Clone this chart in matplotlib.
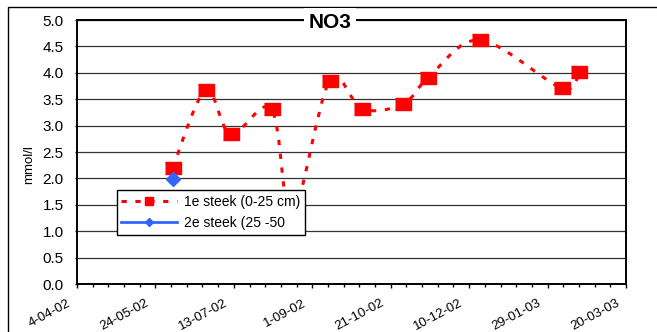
import numpy as np
import matplotlib
matplotlib.use("Agg")
from matplotlib import pyplot as plt
import matplotlib.dates as mdates
import matplotlib.ticker as ticker
import matplotlib.transforms as mtransforms
from matplotlib.path import Path
from matplotlib.patches import PathPatch, Rectangle
from matplotlib.lines import Line2D
from datetime import datetime

plt.rcParams['font.family'] = ['Liberation Sans', 'DejaVu Sans']
plt.rcParams['lines.scale_dashes'] = False

# sampling dates and NO3 values (mmol/l)
top_dates = ["2002-06-04", "2002-06-25", "2002-07-11", "2002-08-06", "2002-08-19",
             "2002-09-12", "2002-10-03", "2002-10-29", "2002-11-14", "2002-12-17",
             "2003-02-07", "2003-02-18"]
top_values = [2.2, 3.67, 2.84, 3.31, 1.3, 3.84, 3.31, 3.41, 3.91, 4.62, 3.71, 4.01]
deep_dates = ["2002-06-04"]
deep_values = [1.98]

tick_labels = ["4-04-02", "24-05-02", "13-07-02", "1-09-02",
               "21-10-02", "10-12-02", "29-01-03", "20-03-03"]
y_ticks = [0.0, 0.5, 1.0, 1.5, 2.0, 2.5, 3.0, 3.5, 4.0, 4.5, 5.0]

RED = "#ff0000"
BLUE = "#3366ff"


def smooth_path(x, y):
    # catmull-rom style bezier through the points (like a smoothed line)
    pts = np.column_stack([x, y])
    verts = [pts[0]]
    codes = [Path.MOVETO]
    n = len(pts)
    for i in range(n - 1):
        p0 = pts[i - 1] if i > 0 else pts[i]
        p1 = pts[i]
        p2 = pts[i + 1]
        p3 = pts[i + 2] if i + 2 < n else pts[i + 1]
        verts += [p1 + (p2 - p0) / 6, p2 - (p3 - p1) / 6, p2]
        codes += [Path.CURVE4] * 3
    return Path(verts, codes)


tick_pos = [mdates.date2num(datetime.strptime(t, "%d-%m-%y")) for t in tick_labels]
xt = mdates.datestr2num(top_dates)
xd = mdates.datestr2num(deep_dates)

fig = plt.figure(figsize=(6.57, 3.32), dpi=100)
ax = fig.add_axes([77 / 657, 48 / 332, 549 / 657, 264 / 332])

# outer chart frame
fig.patches.append(Rectangle((8 / 657, -0.2), 1.2, 1.2 - 7 / 332, fill=False,
                             lw=1.0, ec="black", transform=fig.transFigure, figure=fig))

ax.add_patch(PathPatch(smooth_path(xt, top_values), fill=False, ec=RED, lw=2.2,
                       linestyle=(0, (3.8, 6.2)), capstyle="butt", zorder=3))
rect = [(-1, -0.8), (1, -0.8), (1, 0.8), (-1, 0.8)]
ax.plot(xt, top_values, ls="none", marker=rect, ms=11, color=RED, zorder=4)
ax.plot(xd, deep_values, ls="none", marker="D", ms=7.5, color=BLUE, zorder=4)

ax.set_xlim(tick_pos[0], tick_pos[-1])
ax.set_ylim(0, 5)
ax.xaxis.set_major_locator(ticker.FixedLocator(tick_pos))
ax.xaxis.set_minor_locator(ticker.FixedLocator(np.arange(tick_pos[0], tick_pos[-1] + 1, 10)))
ax.tick_params(axis="x", which="major", length=3.2, width=1, pad=6.3)
ax.tick_params(axis="x", which="minor", length=2.0, width=1)
ax.set_xticklabels(tick_labels, rotation=28, ha="right", va="top", rotation_mode="anchor",
                   fontsize=9.5)
# pull the slanted labels left so they end just before their tick
shift = mtransforms.ScaledTranslation(-10 / 100, 0, fig.dpi_scale_trans)
for lbl in ax.get_xticklabels():
    lbl.set_transform(lbl.get_transform() + shift)

ax.set_yticks(y_ticks)
ax.yaxis.set_major_formatter(ticker.FormatStrFormatter("%.1f"))
ax.tick_params(axis="y", length=1.5, width=1, pad=8, labelsize=11)
ax.grid(axis="y", color="#333333", lw=0.9)
ax.set_axisbelow(True)
for s in ax.spines.values():
    s.set_linewidth(1.4)

fig.text(29 / 657, 1 - 165 / 332, "mmol/l", rotation=90, ha="center", va="center",
         fontsize=9.5)
fig.text(330 / 657, 1 - 22 / 332, "NO3", ha="center", va="center", fontsize=15,
         weight="bold", bbox=dict(fc="white", ec="none", pad=3), zorder=10)

handles = [
    Line2D([], [], color=RED, lw=2.2, linestyle=(0, (3.8, 6.2)), marker="s", ms=6),
    Line2D([], [], color=BLUE, lw=2.0, marker="D", ms=4),
]
leg = ax.legend(handles, ["1e steek (0-25 cm)", "2e steek (25 -50"],
                loc="lower left", bbox_to_anchor=(0.072, 0.185), borderaxespad=0,
                fontsize=10, handlelength=4.0, handletextpad=0.5, labelspacing=0.5,
                borderpad=0.35, fancybox=False, framealpha=1, edgecolor="black",
                numpoints=1)
leg.get_frame().set_linewidth(1.0)
leg.set_zorder(6)

fig.savefig("out.png", dpi=100)
